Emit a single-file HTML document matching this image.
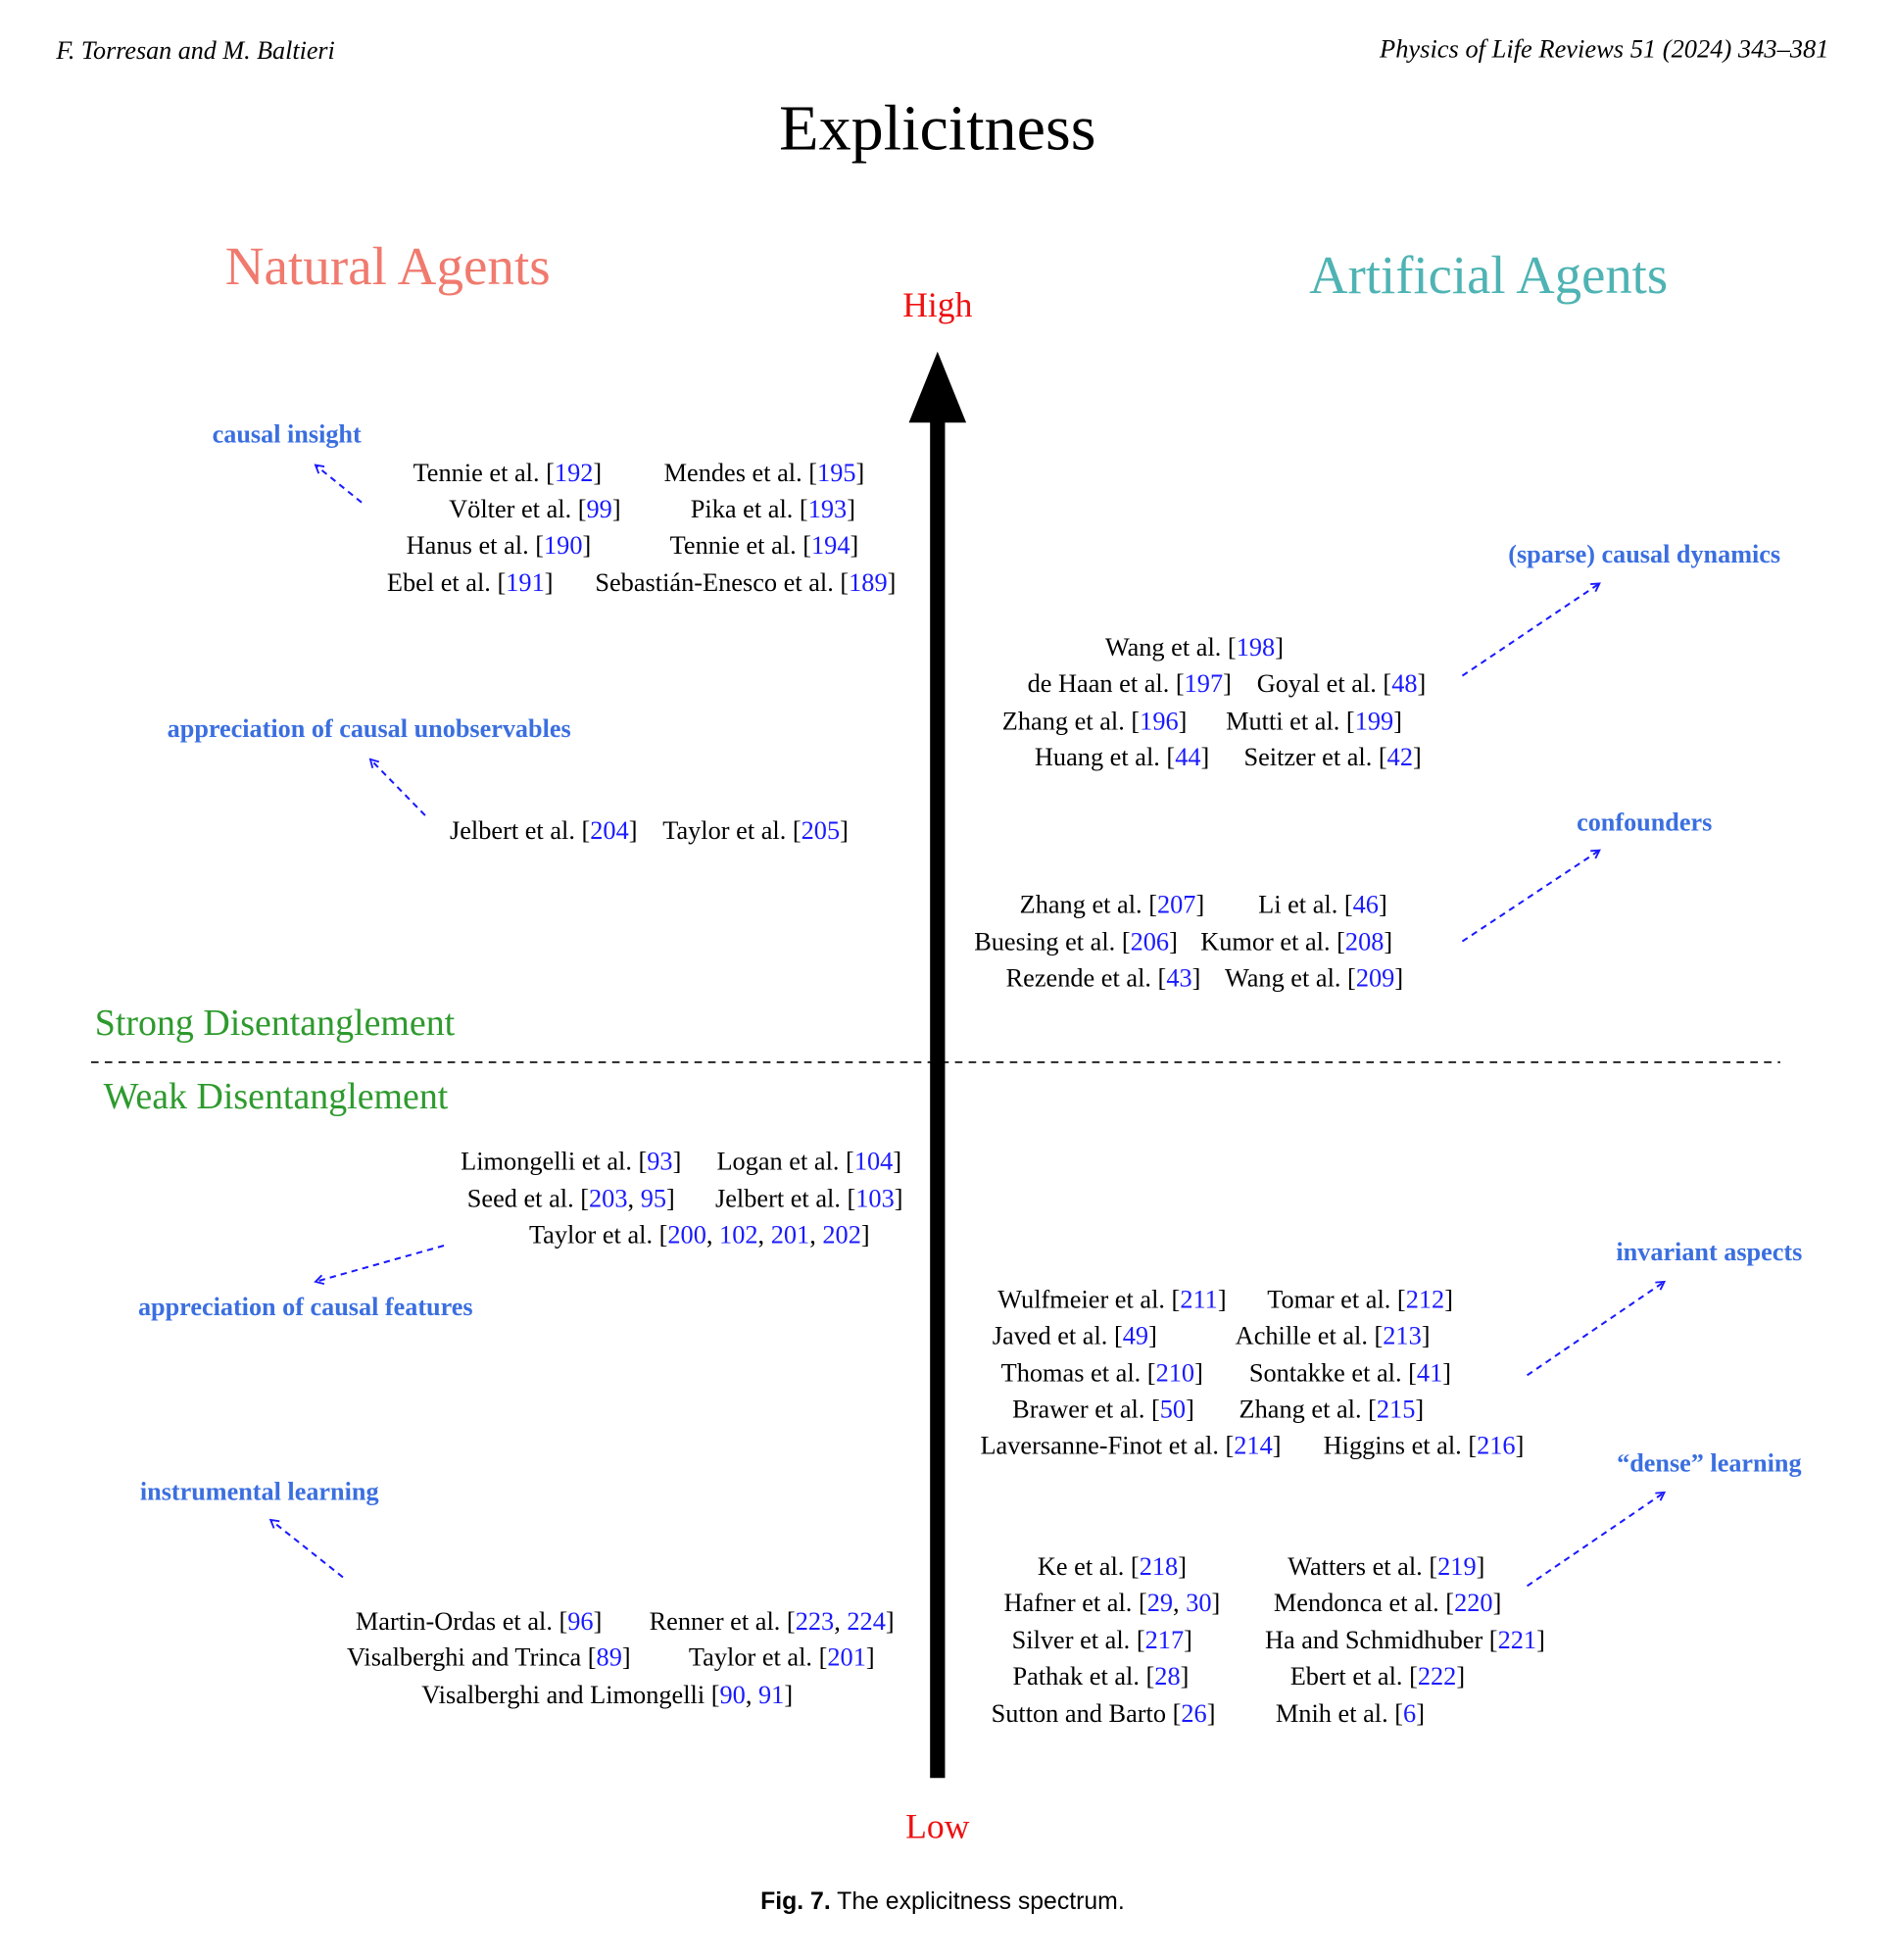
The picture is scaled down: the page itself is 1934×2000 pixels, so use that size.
<!DOCTYPE html>
<html><head><meta charset="utf-8"><style>
html,body{margin:0;padding:0;background:#fff;}
svg{display:block;}
text{font-family:"Liberation Serif",serif;}
.c{font-size:20.7px;fill:#000;}
.lb{font-size:20.6px;font-weight:bold;fill:#3b6fe0;}
</style></head><body>
<svg id="fig" width="1934" height="2000" viewBox="0 0 1520 1572" xmlns="http://www.w3.org/2000/svg">
<defs>
<marker id="ah" viewBox="0 0 10 10" refX="8" refY="5" markerWidth="9" markerHeight="9" orient="auto-start-reverse" markerUnits="userSpaceOnUse">
<path d="M1,1 L8,5 L1,9" fill="none" stroke="#1a1aff" stroke-width="1.6"/>
</marker>
</defs>
<g transform="translate(3,2)">
<text x="42" y="45" font-size="20.5" font-style="italic">F. Torresan and M. Baltieri</text>
<text x="1464" y="44" font-size="20.8" font-style="italic" text-anchor="end">Physics of Life Reviews 51 (2024) 343–381</text>
<text x="749" y="118" font-size="52" text-anchor="middle">Explicitness</text>
<text x="308" y="226" font-size="43.3" fill="#f07a6e" text-anchor="middle">Natural Agents</text>
<text x="1191" y="233" font-size="43" fill="#4fb3b3" text-anchor="middle">Artificial Agents</text>
<text x="749" y="252" font-size="28" fill="#ee1111" text-anchor="middle">High</text>
<text x="749" y="1472" font-size="28" fill="#ee1111" text-anchor="middle">Low</text>
<rect x="743" y="330" width="12" height="1094" fill="#000"/>
<polygon points="749,280 772,337 726,337" fill="#000"/>
<line x1="70" y1="850" x2="1425" y2="850" stroke="#000" stroke-width="1.3" stroke-dasharray="6,5"/>
<text x="73" y="828" font-size="29.8" fill="#2e9a2e">Strong Disentanglement</text>
<text x="80" y="887" font-size="29.8" fill="#2e9a2e">Weak Disentanglement</text>
<text x="753" y="1529" font-size="19.5" text-anchor="middle" style="font-family:'Liberation Sans',sans-serif"><tspan font-weight="bold">Fig. 7.</tspan> The explicitness spectrum.</text>
<g id="cites"></g>
<g id="labels"></g>
</g>
</svg>
<script>
const citeNames=["Tennie et al.","Mendes et al.","Völter et al.","Pika et al.","Hanus et al.","Tennie et al.","Ebel et al.","Sebastián-Enesco et al.",
"Wang et al.","de Haan et al.","Goyal et al.","Zhang et al.","Mutti et al.","Huang et al.","Seitzer et al.",
"Jelbert et al.","Taylor et al.",
"Zhang et al.","Li et al.","Buesing et al.","Kumor et al.","Rezende et al.","Wang et al.",
"Limongelli et al.","Logan et al.","Seed et al.","Jelbert et al.","Taylor et al.",
"Wulfmeier et al.","Tomar et al.","Javed et al.","Achille et al.","Thomas et al.","Sontakke et al.","Brawer et al.","Zhang et al.","Laversanne-Finot et al.","Higgins et al.",
"Ke et al.","Watters et al.","Hafner et al.","Mendonca et al.","Silver et al.","Ha and Schmidhuber","Pathak et al.","Ebert et al.","Sutton and Barto","Mnih et al.",
"Martin-Ordas et al.","Renner et al.","Visalberghi and Trinca","Taylor et al.","Visalberghi and Limongelli"];
const citeRefs=[["192"],["195"],["99"],["193"],["190"],["194"],["191"],["189"],
["198"],["197"],["48"],["196"],["199"],["44"],["42"],
["204"],["205"],
["207"],["46"],["206"],["208"],["43"],["209"],
["93"],["104"],["203","95"],["103"],["200","102","201","202"],
["211"],["212"],["49"],["213"],["210"],["41"],["50"],["215"],["214"],["216"],
["218"],["219"],["29","30"],["220"],["217"],["221"],["28"],["222"],["26"],["6"],
["96"],["223","224"],["89"],["201"],["90","91"]];
const citeX=[404,610,426,617,397,610,374,595,
955,903,1073,875,1051,897,1066,
433,603,
889,1058,860,1037,882,1051,
455,646,455,646,558,
889,1088,859,1066,881,1080,882,1065,904,1139,
889,1109,889,1110,881,1124,880,1102,882,1080,
381,616,389,624,484];
const citeY=[377,377,406,406,435,435,465,465,
517,546,546,576,576,605,605,
664,664,
723,723,753,753,782,782,
929,929,959,959,988,
1040,1040,1069,1069,1099,1099,1128,1128,1157,1157,
1254,1254,1283,1283,1313,1313,1342,1342,1372,1372,
1298,1298,1327,1327,1357];
const labelText=["causal insight","appreciation of causal unobservables","(sparse) causal dynamics","confounders","appreciation of causal features","instrumental learning","invariant aspects","“dense” learning"];
const labelX=[227,293,1316,1316,242,205,1368,1368];
const labelY=[347,583,443,658,1047,1195,1003,1172];
const arrowFrom=[[287,401],[338,652],[1170,540],[1170,753],[353,997],[272,1263],[1222,1101],[1222,1270]];
const arrowTo=[[250,371],[294,607],[1280,466],[1280,680],[250,1026],[214,1217],[1332,1026],[1332,1195]];
const NS="http://www.w3.org/2000/svg";
const cg=document.getElementById('cites');
citeNames.forEach((n,i)=>{
  const t=document.createElementNS(NS,'text');
  
  
  t.setAttribute('class','c');
  t.setAttribute('x',citeX[i]);t.setAttribute('y',citeY[i]+7);
  t.setAttribute('text-anchor','middle');
  t.appendChild(document.createTextNode(n+' ['));
  citeRefs[i].forEach((r,j)=>{
    if(j>0)t.appendChild(document.createTextNode(', '));
    const s=document.createElementNS(NS,'tspan');
    
    
    s.setAttribute('fill','#1a1aff');
    s.textContent=r;t.appendChild(s);
  });
  t.appendChild(document.createTextNode(']'));
  cg.appendChild(t);
});
const lg=document.getElementById('labels');
labelText.forEach((s,i)=>{
  const t=document.createElementNS(NS,'text');
  
  
  t.setAttribute('class','lb');
  t.setAttribute('x',labelX[i]);t.setAttribute('y',labelY[i]+6);
  t.setAttribute('text-anchor','middle');
  t.textContent=s;lg.appendChild(t);
  const l=document.createElementNS(NS,'line');
  
  
  l.setAttribute('x1',arrowFrom[i][0]);l.setAttribute('y1',arrowFrom[i][1]);
  l.setAttribute('x2',arrowTo[i][0]);l.setAttribute('y2',arrowTo[i][1]);
  l.setAttribute('stroke','#1a1aff');l.setAttribute('stroke-width','1.6');
  l.setAttribute('stroke-dasharray','5,4');
  l.setAttribute('marker-end','url(#ah)');
  lg.appendChild(l);
});
</script>
</body></html>
